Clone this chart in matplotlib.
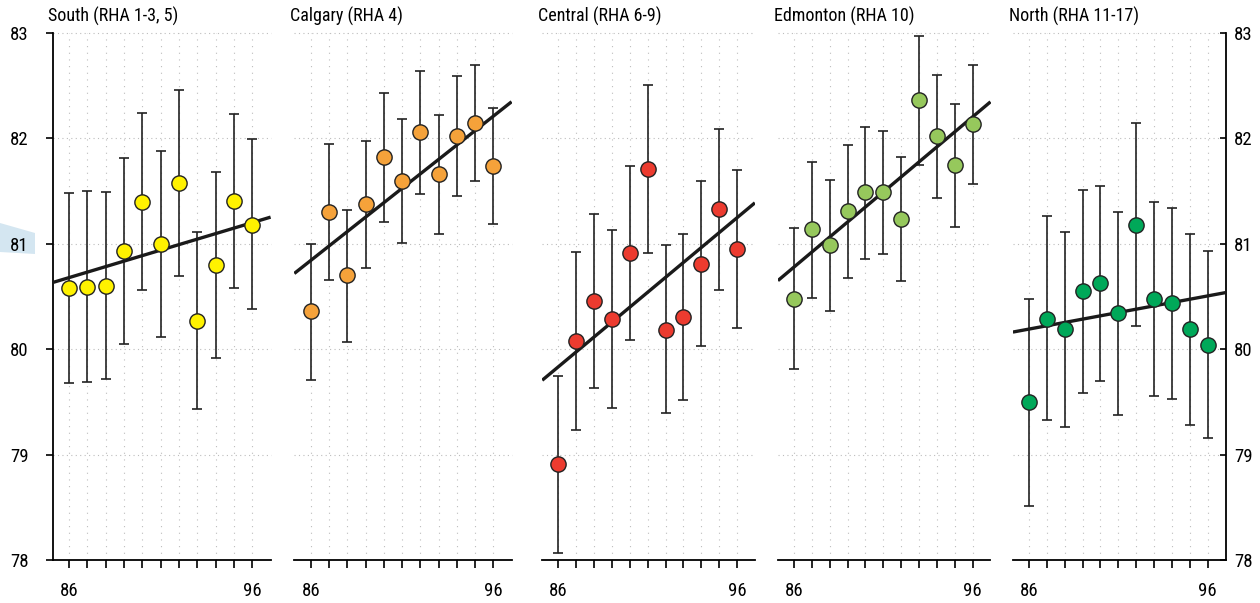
import numpy as np
import matplotlib
matplotlib.use("Agg")
import matplotlib.pyplot as plt
from matplotlib.patches import Polygon

plt.rcParams["font.family"] = ["Roboto Condensed", "Liberation Sans Narrow", "Roboto", "DejaVu Sans"]

years = np.arange(86, 97)
year_labels = ["86", "", "", "", "", "", "", "", "", "", "96"]

titles = ["South (RHA 1-3, 5)", "Calgary (RHA 4)", "Central (RHA 6-9)",
          "Edmonton (RHA 10)", "North (RHA 11-17)"]
colors = ["#fff200", "#f5a23a", "#ec3b2f", "#96c85c", "#00a859"]

# point estimates and confidence limits
south = [80.58, 80.59, 80.60, 80.93, 81.40, 81.00, 81.58, 80.27, 80.80, 81.41, 81.18]
south_lo = [79.68, 79.69, 79.72, 80.05, 80.56, 80.12, 80.69, 79.43, 79.92, 80.58, 80.38]
south_hi = [81.48, 81.50, 81.49, 81.81, 82.24, 81.88, 82.46, 81.11, 81.68, 82.23, 81.99]

calgary = [80.36, 81.30, 80.70, 81.38, 81.82, 81.60, 82.06, 81.66, 82.02, 82.15, 81.74]
calgary_lo = [79.71, 80.66, 80.07, 80.77, 81.21, 81.01, 81.47, 81.09, 81.45, 81.60, 81.19]
calgary_hi = [81.00, 81.95, 81.32, 81.98, 82.43, 82.18, 82.64, 82.22, 82.59, 82.70, 82.29]

central = [78.91, 80.08, 80.46, 80.29, 80.91, 81.71, 80.18, 80.31, 80.81, 81.33, 80.95]
central_lo = [78.07, 79.23, 79.63, 79.44, 80.09, 80.91, 79.39, 79.52, 80.03, 80.56, 80.20]
central_hi = [79.75, 80.92, 81.28, 81.13, 81.74, 82.51, 80.99, 81.09, 81.60, 82.09, 81.70]

edmonton = [80.48, 81.14, 80.99, 81.31, 81.49, 81.49, 81.24, 82.36, 82.02, 81.75, 82.14]
edmonton_lo = [79.81, 80.49, 80.36, 80.68, 80.86, 80.90, 80.65, 81.75, 81.43, 81.16, 81.57]
edmonton_hi = [81.15, 81.78, 81.61, 81.94, 82.11, 82.07, 81.82, 82.97, 82.60, 82.33, 82.70]

north = [79.50, 80.29, 80.19, 80.55, 80.63, 80.34, 81.18, 80.48, 80.44, 80.19, 80.04]
north_lo = [78.51, 79.33, 79.26, 79.58, 79.70, 79.38, 80.22, 79.56, 79.53, 79.28, 79.16]
north_hi = [80.48, 81.26, 81.11, 81.51, 81.55, 81.30, 82.15, 81.40, 81.34, 81.09, 80.93]

series = [(south, south_lo, south_hi), (calgary, calgary_lo, calgary_hi),
          (central, central_lo, central_hi), (edmonton, edmonton_lo, edmonton_hi),
          (north, north_lo, north_hi)]

W, H = 1260, 603
lefts = [52.5, 294.3, 542.2, 777.9, 1012.9]
rights = [270.6, 511.6, 754.9, 990.5, 1225.5]
top_px, bot_px = 33, 560

fig = plt.figure(figsize=(W / 100, H / 100), dpi=100)

# pale blue tab behind the left axis
tab = Polygon([[0, 1 - 223 / H], [35 / W, 1 - 233 / H], [35 / W, 1 - 254 / H], [0, 1 - 252 / H]],
              closed=True, transform=fig.transFigure, fc="#d4e6f1", ec="none", zorder=-1)
fig.patches.append(tab)

for i, (title, color, (vals, lo, hi)) in enumerate(zip(titles, colors, series)):
    vals, lo, hi = np.array(vals), np.array(lo), np.array(hi)
    ax = fig.add_axes([lefts[i] / W, 1 - bot_px / H, (rights[i] - lefts[i]) / W, (bot_px - top_px) / H])
    ax.set_xlim(85.1, 97.0)
    ax.set_ylim(78, 83)
    ax.patch.set_alpha(0)

    # dotted grid
    for y in years:
        ax.axvline(y, color="#bdbdbd", lw=0.8, ls=(0, (1, 5)), zorder=0)
    for v in range(79, 84):
        ax.axhline(v, color="#bdbdbd", lw=0.8, ls=(0, (1, 3)), zorder=0, clip_on=False)

    ax.errorbar(years, vals, yerr=[vals - lo, hi - vals], fmt="none", ecolor="#222222",
                elinewidth=1.2, capsize=3.6, capthick=1.2, zorder=2)
    coef = np.polyfit(years, vals, 1)
    xs = np.array(ax.get_xlim())
    ax.plot(xs, np.polyval(coef, xs), color="#1a1a1a", lw=2.4, zorder=3, solid_capstyle="butt")
    ax.plot(years, vals, "o", ms=11, mfc=color, mec="#222222", mew=1, zorder=4)

    for s in ax.spines.values():
        s.set_visible(False)
    ax.spines["bottom"].set_visible(True)
    ax.spines["bottom"].set_linewidth(1.3)
    ax.set_xticks(years)
    ax.set_xticklabels(year_labels)
    ax.tick_params(axis="x", direction="out", length=5.8, width=1.2, pad=10, labelsize=13.5)

    if i == 0:
        ax.spines["left"].set_visible(True)
        ax.spines["left"].set_linewidth(1.3)
        ax.set_yticks(range(78, 84))
        ax.tick_params(axis="y", direction="out", length=5, width=1.2, pad=12, labelsize=13.5)
    elif i == 4:
        ax.spines["right"].set_visible(True)
        ax.spines["right"].set_linewidth(1.3)
        ax.yaxis.tick_right()
        ax.set_yticks(range(78, 84))
        ax.tick_params(axis="y", direction="in", length=4.5, width=1.2, pad=6, labelsize=13.5)
    else:
        ax.set_yticks([])

    ax.annotate(title, xy=(0, 1), xycoords="axes fraction", xytext=(-3, 8),
                textcoords="offset points", ha="left", va="baseline", fontsize=13)

fig.savefig("out.png", dpi=100)
